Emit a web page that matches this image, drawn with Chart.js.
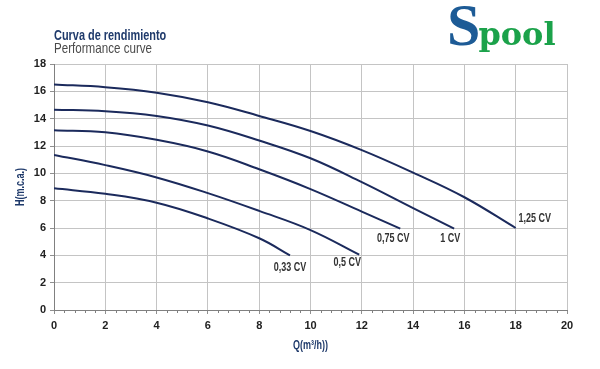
<!DOCTYPE html>
<html>
<head>
<meta charset="utf-8">
<script src="https://cdn.jsdelivr.net/npm/chart.js@4.4.1/dist/chart.umd.min.js"></script>
<style>
    body { margin: 0; background: #fff; }
    #wrap { position: relative; width: 600px; height: 369px; overflow: hidden; }
    #chart { position: absolute; left: 0; top: 0; }
    .cond { font-family: "Liberation Sans", "DejaVu Sans", sans-serif; transform-origin: 0 0; white-space: nowrap; }
    #title1 { position: absolute; left: 54px; top: 27px; font-size: 14px; font-weight: bold; color: #1f3a6b; transform: scaleX(0.78); }
    #title2 { position: absolute; left: 54px; top: 40px; font-size: 14.5px; color: #4a4a4a; transform: scaleX(0.8); }
    #logo { position: absolute; left: 447px; top: -9px; white-space: nowrap; }
    #logo .s { font-family: "Liberation Serif", serif; font-weight: bold; font-size: 60px; color: #1d5b96; }
    #logo .p { font-family: "DejaVu Serif", serif; font-weight: bold; font-size: 32px; color: #1ba24a; margin-left: -2px; }
</style>
</head>
<body>
<div id="wrap">
    <canvas id="chart" width="600" height="369"></canvas>
    <div id="title1" class="cond">Curva de rendimiento</div>
    <div id="title2" class="cond">Performance curve</div>
    <div id="logo"><span class="s">S</span><span class="p">pool</span></div>
</div>
<script>
// Axis ranges
const xTicks = [0, 2, 4, 6, 8, 10, 12, 14, 16, 18, 20];
const yTicks = [0, 2, 4, 6, 8, 10, 12, 14, 16, 18];

// Curve labels
const curveNames = ['0,33 CV', '0,5 CV', '0,75 CV', '1 CV', '1,25 CV'];

// Flow Q (m3/h) and head H (m.c.a.)
const q033 = [0, 2, 4, 6, 8, 9.2];
const h033 = [8.9, 8.5, 7.85, 6.7, 5.25, 4.0];

const q05 = [0, 2, 4, 6, 8, 10, 11.9];
const h05 = [11.35, 10.6, 9.7, 8.55, 7.25, 5.85, 4.05];

const q075 = [0, 2, 4, 6, 8, 10, 12, 13.5];
const h075 = [13.15, 13.0, 12.45, 11.6, 10.3, 8.85, 7.2, 5.95];

const q1 = [0, 2, 4, 6, 8, 10, 12, 14, 15.6];
const h1 = [14.65, 14.55, 14.2, 13.5, 12.4, 11.1, 9.35, 7.45, 5.95];

const q125 = [0, 2, 4, 6, 8, 10, 12, 14, 16, 18];
const h125 = [16.5, 16.3, 15.9, 15.2, 14.2, 13.1, 11.7, 10.05, 8.25, 6.0];

const FONT = '"Liberation Sans", "DejaVu Sans", sans-serif';
const LINE = '#1b2a5c';

function toPoints(xs, ys) {
    return xs.map((x, i) => ({ x: x, y: ys[i] }));
}

const series = [[q033, h033], [q05, h05], [q075, h075], [q1, h1], [q125, h125]];

// label offsets from curve end (px)
const labelOffsets = [[0, 12], [-12, 8], [-7, 10], [-4, 10], [19, -9]];

// draw horizontally squeezed text (the original uses a condensed face)
function fillCond(ctx, text, x, y, sx) {
    ctx.save();
    ctx.translate(x, y);
    ctx.scale(sx, 1);
    ctx.fillText(text, 0, 0);
    ctx.restore();
}

const extrasPlugin = {
    id: 'extras',
    afterDraw(chart) {
        const ctx = chart.ctx;
        const xs = chart.scales.x, ys = chart.scales.y;
        const area = chart.chartArea;
        ctx.save();

        // minor ticks on the x axis
        ctx.strokeStyle = '#808080';
        ctx.lineWidth = 1;
        for (let i = 0; i <= 50; i++) {
            if (i % 5 === 0) continue;
            const px = Math.round(xs.getPixelForValue(i * 0.4)) + 0.5;
            ctx.beginPath();
            ctx.moveTo(px, area.bottom);
            ctx.lineTo(px, area.bottom + 3);
            ctx.stroke();
        }

        // curve labels
        ctx.font = 'bold 12px ' + FONT;
        ctx.fillStyle = '#333';
        ctx.textAlign = 'center';
        ctx.textBaseline = 'middle';
        series.forEach((s, i) => {
            const last = s[0].length - 1;
            const px = xs.getPixelForValue(s[0][last]);
            const py = ys.getPixelForValue(s[1][last]);
            fillCond(ctx, curveNames[i], px + labelOffsets[i][0], py + labelOffsets[i][1], 0.75);
        });

        // axis titles
        ctx.fillStyle = '#1f3a6b';
        ctx.font = 'bold 12px ' + FONT;
        fillCond(ctx, 'Q(m³/h))', (area.left + area.right) / 2, 346, 0.75);
        ctx.translate(21, (area.top + area.bottom) / 2);
        ctx.rotate(-Math.PI / 2);
        fillCond(ctx, 'H(m.c.a.)', 0, 0, 0.75);
        ctx.restore();
    }
};

new Chart(document.getElementById('chart').getContext('2d'), {
    type: 'scatter',
    data: {
        datasets: series.map((s, i) => ({
            label: curveNames[i],
            data: toPoints(s[0], s[1]),
            showLine: true,
            borderColor: LINE,
            borderWidth: 2,
            pointRadius: 0,
            tension: 0.4,
            fill: false
        }))
    },
    options: {
        responsive: false,
        animation: false,
        layout: { padding: { left: 0, top: 64, right: 33, bottom: 0 } },
        plugins: {
            legend: { display: false },
            tooltip: { enabled: false },
            title: { display: false }
        },
        scales: {
            x: {
                type: 'linear',
                min: xTicks[0],
                max: xTicks[xTicks.length - 1],
                afterBuildTicks: (scale) => { scale.ticks = xTicks.map(v => ({ value: v })); },
                afterFit: (scale) => { scale.height = 59; },
                grid: { color: '#c4c4c4', tickLength: 4, tickColor: '#909090' },
                border: { color: '#808080' },
                ticks: { color: '#222', padding: 5, font: { family: FONT, size: 11, weight: 'bold' } }
            },
            y: {
                type: 'linear',
                min: yTicks[0],
                max: yTicks[yTicks.length - 1],
                afterBuildTicks: (scale) => { scale.ticks = yTicks.map(v => ({ value: v })); },
                afterFit: (scale) => { scale.width = 54; },
                grid: { color: '#c4c4c4', tickLength: 4, tickColor: '#909090' },
                border: { color: '#808080' },
                ticks: { color: '#222', padding: 4, font: { family: FONT, size: 11, weight: 'bold' } }
            }
        }
    },
    plugins: [extrasPlugin]
});
</script>
</body>
</html>
